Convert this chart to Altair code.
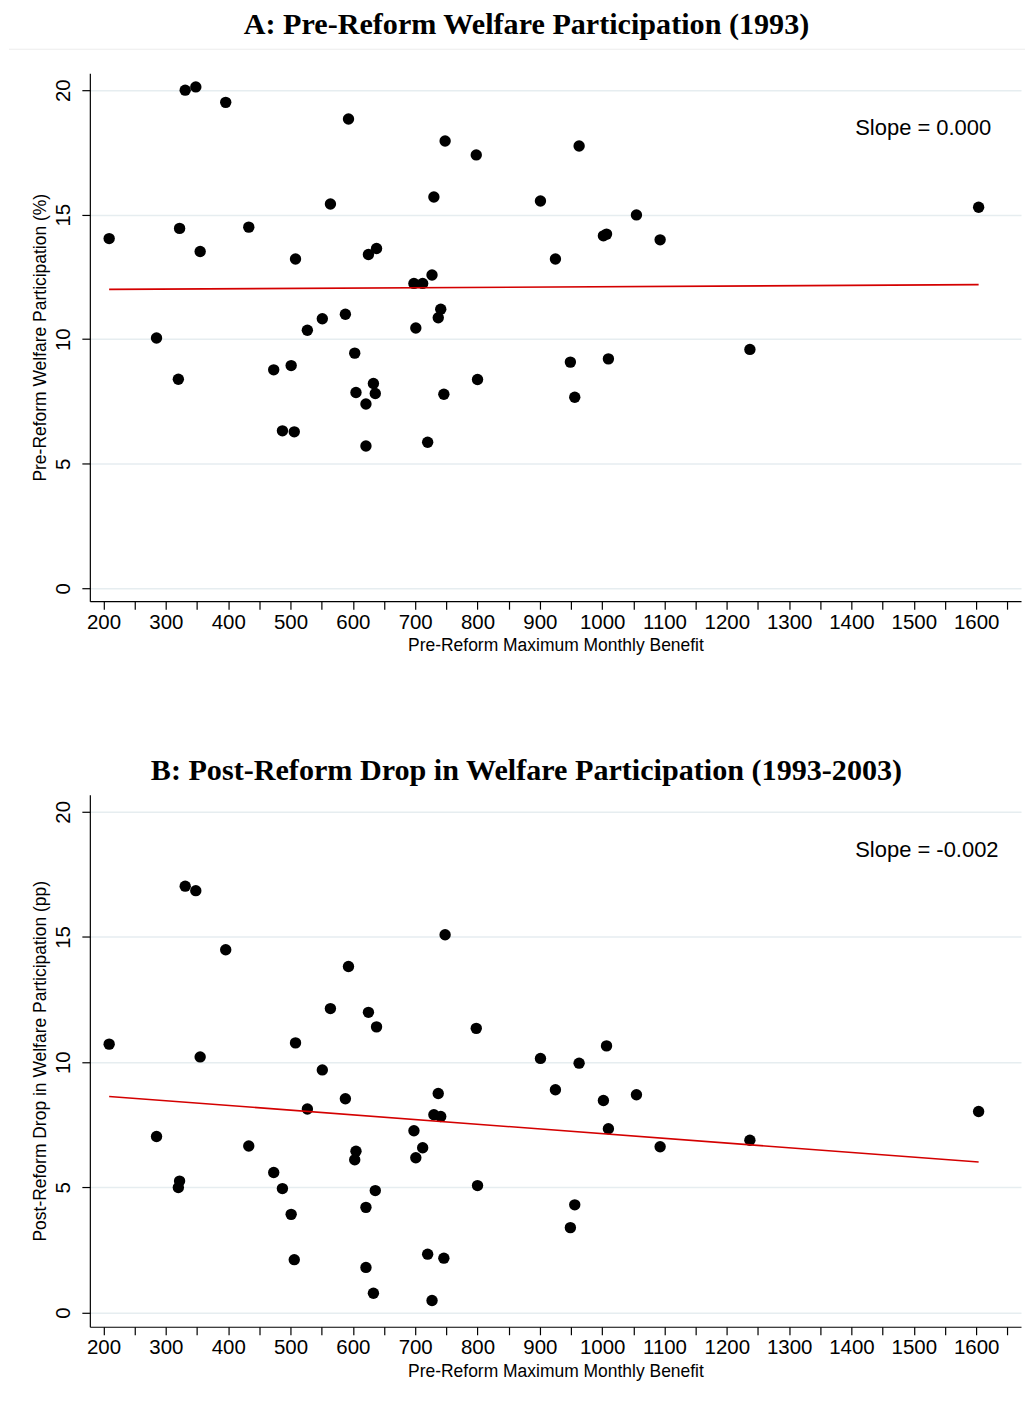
import altair as alt
import pandas as pd

# Pre-reform maximum monthly benefit (x) for each state
benefit = [209, 285, 320, 322, 331, 348, 355, 396, 433, 473, 487, 501, 506, 508, 527,
           551, 564, 588, 593, 603, 605, 621, 621, 625, 633, 636, 638, 698, 701, 712,
           720, 727, 730, 737, 741, 746, 748, 798, 800, 901, 925, 949, 956, 963, 1002,
           1007, 1010, 1055, 1093, 1237, 1604]
# Panel A: pre-reform welfare participation (%)
pre = [14.04, 10.05, 8.39, 14.45, 20.0, 20.13, 13.52, 19.51, 14.5, 8.77, 6.32, 8.94, 6.28,
       13.22, 10.36, 10.82, 15.43, 11.0, 18.84, 9.44, 7.86, 7.40, 5.71, 13.40, 8.22, 7.82,
       13.64, 12.24, 10.45, 12.24, 5.86, 12.58, 15.71, 10.86, 11.2, 7.79, 17.96, 17.4, 8.38,
       15.55, 13.22, 9.08, 7.67, 17.76, 14.15, 14.22, 9.21, 14.99, 13.99, 9.59, 15.3]
# Panel B: post-reform drop in welfare participation (pp)
drop = [10.72, 7.03, 4.99, 5.25, 17.03, 16.85, 10.21, 14.49, 6.65, 5.59, 4.95, 3.92, 2.11,
        10.77, 8.13, 9.69, 12.14, 8.54, 13.82, 6.10, 6.44, 4.20, 1.80, 11.99, 0.77, 4.87,
        11.41, 7.26, 6.18, 6.58, 2.33, 0.48, 7.90, 8.75, 7.83, 2.17, 15.09, 11.35, 5.07,
        10.15, 8.90, 3.39, 4.30, 9.96, 8.47, 10.65, 7.34, 8.70, 6.62, 6.88, 8.03]

# Fitted regression lines (endpoints)
fit_x = [209, 1604]
fit_pre = [12.0, 12.19]
fit_drop = [8.63, 6.01]

# Slope annotations
slope_labels = ["Slope = 0.000", "Slope = -0.002"]
slope_x = 1406
slope_y = [18.5, 18.47]

x_ticks = list(range(200, 1651, 50))
y_ticks = [0, 5, 10, 15, 20]

df = pd.DataFrame({"benefit": benefit, "pre": pre, "drop": drop})
fit = pd.DataFrame({"benefit": fit_x, "pre": fit_pre, "drop": fit_drop})

XDOM = [178, 1672]
W = 933


def panel(col, ytitle, title, slope_label, sy, height, ydom, sep_line):
    x = alt.X("benefit:Q",
              scale=alt.Scale(domain=XDOM, nice=False, zero=False),
              axis=alt.Axis(values=x_ticks,
                            labelExpr="datum.value % 100 == 0 ? '' + datum.value : ''",
                            grid=False, tickSize=8, labelPadding=3, titlePadding=4,
                            labelFlush=False, labelOverlap=False),
              title="Pre-Reform Maximum Monthly Benefit")
    y = alt.Y(f"{col}:Q",
              scale=alt.Scale(domain=ydom, nice=False, zero=False),
              axis=alt.Axis(values=y_ticks, labelAngle=270, grid=True, tickSize=8,
                            labelPadding=8, titlePadding=4, labelFlush=False),
              title=ytitle)
    pts = alt.Chart(df).mark_circle(size=130, color="black", opacity=1).encode(x=x, y=y)
    line = alt.Chart(fit).mark_line(color="#d40000", strokeWidth=1.6).encode(x=x, y=y)
    tdf = pd.DataFrame({"benefit": [slope_x], col: [sy], "label": [slope_label]})
    txt = alt.Chart(tdf).mark_text(align="left", baseline="middle",
                                   font="Liberation Sans", fontSize=22,
                                   color="black").encode(x=x, y=y, text="label:N")
    layers = [pts, line, txt]
    if sep_line:
        rule = alt.Chart(tdf).mark_rule(color="#ececec", strokeWidth=1.2).encode(
            x=alt.value(-81), x2=alt.value(937), y=alt.value(-24))
        layers.append(rule)
    return alt.layer(*layers).properties(
        width=W, height=height,
        title=alt.TitleParams(title, font="Liberation Serif", fontSize=30.2,
                              fontWeight="bold", color="black", anchor="middle",
                              frame="group", dx=-29, offset=9))


a = panel("pre", "Pre-Reform Welfare Participation (%)",
          "A: Pre-Reform Welfare Participation (1993)",
          slope_labels[0], slope_y[0], 529, [-0.52, 20.68], True)
b = panel("drop", "Post-Reform Drop in Welfare Participation (pp)",
          "B: Post-Reform Drop in Welfare Participation (1993-2003)",
          slope_labels[1], slope_y[1], 533, [-0.57, 20.68], False)

chart = alt.vconcat(a, b, spacing=101).properties(
    padding={"left": 0, "top": 0, "right": 0, "bottom": 5}
).configure_view(stroke=None).configure_axis(
    domainColor="black", domainWidth=1.2, tickColor="black", tickWidth=1.2,
    labelColor="black", titleColor="black", labelFont="Liberation Sans",
    titleFont="Liberation Sans", labelFontSize=20.5, titleFontSize=17.5,
    titleFontWeight="normal", gridColor="#e6edf0", gridWidth=1.5
)

chart.save("out.html", embed_options={"renderer": "svg", "actions": False})
